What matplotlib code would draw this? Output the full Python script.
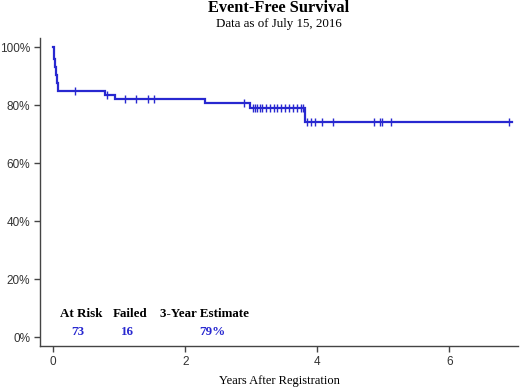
import matplotlib
matplotlib.use("Agg")
import matplotlib.pyplot as plt
from matplotlib.ticker import FuncFormatter

# Kaplan-Meier step curve (years, survival %)
step_times = [0.0, 0.005, 0.01, 0.015, 0.02, 0.03, 0.035, 0.04, 0.05, 0.06, 0.068, 0.075,
              0.78, 0.93, 2.30, 2.98, 3.81]
step_surv = [100.0, 98.6, 97.3, 95.9, 94.5, 93.2, 91.8, 90.4, 89.0, 87.7, 86.3, 84.9,
             83.5, 82.2, 80.6, 79.0, 74.2]
end_time = 6.95

# Censored observations (years)
censor_times = [0.33, 0.82, 1.09, 1.25, 1.44, 1.52, 2.89,
                3.02, 3.06, 3.09, 3.13, 3.17, 3.23, 3.28, 3.34, 3.39, 3.45,
                3.51, 3.57, 3.63, 3.70, 3.76, 3.79,
                3.84, 3.90, 3.96, 4.07, 4.24, 4.86, 4.95, 4.98, 5.11, 6.91]

x_ticks = [0, 2, 4, 6]
y_ticks = [0, 20, 40, 60, 80, 100]

summary_headers = ["At Risk", "Failed", "3-Year Estimate"]
summary_values = ["73", "16", "79%"]

title = "Event-Free Survival"
subtitle = "Data as of July 15, 2016"
xlabel = "Years After Registration"

blue = "#2828d0"
serif = ["Liberation Serif", "DejaVu Serif"]
sans = ["Liberation Sans", "DejaVu Sans"]

fig = plt.figure(figsize=(5.2, 3.89), dpi=100)
ax = fig.add_axes([40/520, 1-346/389, 478/520, 308/389])

xs = list(step_times) + [end_time]
ys = list(step_surv) + [step_surv[-1]]
ax.step(xs, ys, where="post", color=blue, lw=1.6, solid_joinstyle="miter")

def surv_at(t):
    s = step_surv[0]
    for tt, v in zip(step_times, step_surv):
        if tt <= t:
            s = v
    return s

ax.plot(censor_times, [surv_at(t) for t in censor_times], linestyle="none",
        marker="|", markersize=6, markeredgewidth=1.0, color=blue)

ax.set_xlim(-0.2, 7.04)
ax.set_ylim(-3.1, 103.2)
ax.set_xticks(x_ticks)
ax.set_yticks(y_ticks)
ax.yaxis.set_major_formatter(FuncFormatter(lambda v, p: f"{int(v)}%"))
for s in ["top", "right"]:
    ax.spines[s].set_visible(False)
for s in ["left", "bottom"]:
    ax.spines[s].set_color("#444444")
    ax.spines[s].set_linewidth(1.0)
ax.tick_params(axis="both", direction="out", length=4, width=1, color="#444444",
               labelsize=8.5, labelcolor="#333333", pad=3)
for lbl in ax.get_xticklabels() + ax.get_yticklabels():
    lbl.set_family(sans)

fig.text(279/520, 1-8/389, title, ha="center", va="center", family=serif,
         fontweight="bold", fontsize=11.8)
fig.text(279/520, 1-24/389, subtitle, ha="center", va="center", family=serif,
         fontsize=9.4)
fig.text(279/520, 1-381/389, xlabel, ha="center", va="center", family=serif,
         fontsize=9)

hdr_x = [81, 130, 205]
val_x = [78, 127, 212]
for h, v, hx, vx in zip(summary_headers, summary_values, hdr_x, val_x):
    fig.text(hx/520, 1-314/389, h, ha="center", va="center", family=serif,
             fontweight="bold", fontsize=9.4)
    fig.text(vx/520, 1-332/389, v, ha="center", va="center", family=serif,
             fontweight="bold", fontsize=9.4, color=blue)

fig.savefig("out.png", dpi=100)
